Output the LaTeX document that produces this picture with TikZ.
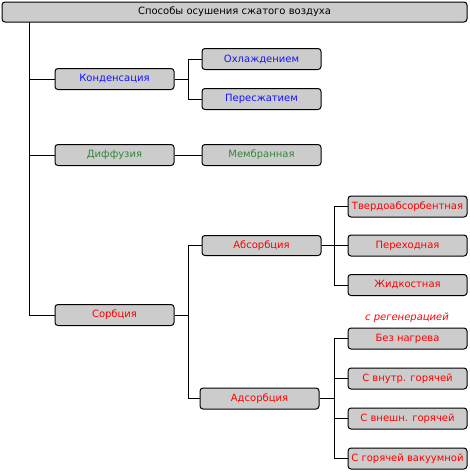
\documentclass[tikz,border=0pt]{standalone}
\usepackage{fontspec}
\setmainfont{DejaVu Sans}
\definecolor{boxfill}{RGB}{204,204,204}
\definecolor{cblue}{RGB}{20,20,255}
\definecolor{cgreen}{RGB}{50,135,60}
\definecolor{cred}{RGB}{255,0,0}
\tikzset{
  box/.style={draw=black, fill=boxfill, rounded corners=3pt, line width=1pt,
    minimum width=119pt, minimum height=21pt, inner sep=0pt,
    font=\fontsize{10}{12}\selectfont},
  conn/.style={draw=black, line width=1pt},
}
\begin{document}
\begin{tikzpicture}[x=1pt,y=-1pt]
\useasboundingbox (0,0) rectangle (470,472);
\node[box, minimum width=465pt, minimum height=20pt] (title) at (234.5,12) {Способы осушения сжатого воздуха};
% level 1
\node[box, text=cblue] (kond) at (114.5,79) {Конденсация};
\node[box, text=cgreen] (diff) at (114.5,155) {Диффузия};
\node[box, text=cred] (sorb) at (114.5,315) {Сорбция};
% level 2
\node[box, text=cblue] (ohl) at (261.5,59) {Охлаждением};
\node[box, text=cblue] (peres) at (261.5,99) {Пересжатием};
\node[box, text=cgreen] (memb) at (261.5,155) {Мембранная};
\node[box, text=cred, minimum height=20pt] (abs) at (261.5,245.5) {Абсорбция};
\node[box, text=cred] (ads) at (259.5,398.5) {Адсорбция};
% level 3
\node[box, text=cred] (tverd) at (407.5,206.5) {Твердоабсорбентная};
\node[box, text=cred] (perh) at (407.5,245.5) {Переходная};
\node[box, text=cred] (zhid) at (407.5,285) {Жидкостная};
\node[box, text=cred] (bez) at (407.5,338.5) {Без нагрева};
\node[box, text=cred] (vnut) at (407.5,378.5) {С внутр. горячей};
\node[box, text=cred] (vnesh) at (407.5,418.5) {С внешн. горячей};
\node[box, text=cred] (vak) at (407.5,458.5) {С горячей вакуумной};
\node[text=cred, font=\fontsize{10}{12}\selectfont\itshape] (regen) at (407,318) {с регенерацией};
% connectors
\coordinate (tr) at (29,22);
\draw[conn] (tr) |- (sorb.west);
\draw[conn] (tr |- kond.west) -- (kond.west);
\draw[conn] (tr |- diff.west) -- (diff.west);
% Konden
\coordinate (k1) at (188,79);
\draw[conn] (kond.east) -- (k1);
\draw[conn] (k1 |- ohl.west) -- (ohl.west);
\draw[conn] (k1 |- peres.west) -- (peres.west);
\draw[conn] (k1 |- ohl.west) -- (k1 |- peres.west);
% Diff
\draw[conn] (diff.east) -- (memb.west);
% Sorb
\coordinate (s1) at (188,315);
\draw[conn] (sorb.east) -- (s1);
\draw[conn] (s1 |- abs.west) -- (s1 |- ads.west);
\draw[conn] (s1 |- abs.west) -- (abs.west);
\draw[conn] (s1 |- ads.west) -- (ads.west);
% Abs
\coordinate (a1) at (334,245.5);
\draw[conn] (abs.east) -- (perh.west);
\draw[conn] (a1 |- tverd.west) -- (a1 |- zhid.west);
\draw[conn] (a1 |- tverd.west) -- (tverd.west);
\draw[conn] (a1 |- zhid.west) -- (zhid.west);
% Ads
\coordinate (d1) at (334,398.5);
\draw[conn] (ads.east) -- (d1);
\draw[conn] (d1 |- bez.west) -- (d1 |- vak.west);
\draw[conn] (d1 |- bez.west) -- (bez.west);
\draw[conn] (d1 |- vnut.west) -- (vnut.west);
\draw[conn] (d1 |- vnesh.west) -- (vnesh.west);
\draw[conn] (d1 |- vak.west) -- (vak.west);
\end{tikzpicture}
\end{document}
